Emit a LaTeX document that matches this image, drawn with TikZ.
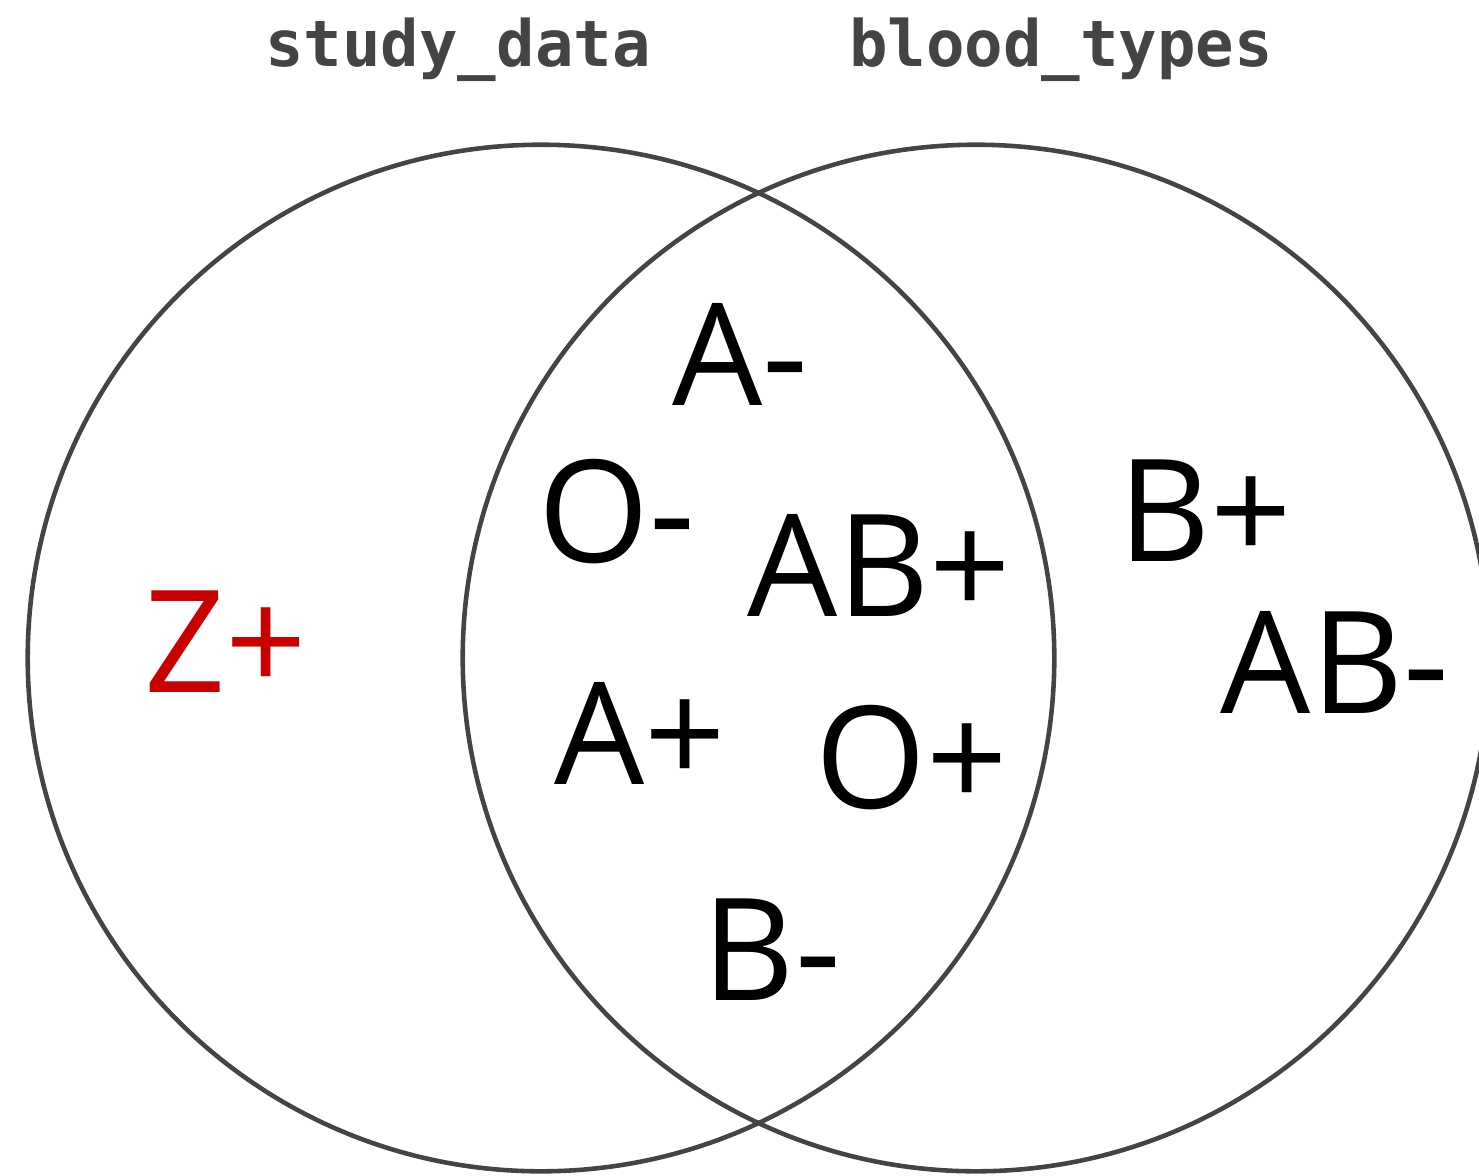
\documentclass[tikz,border=0pt]{standalone}
\usepackage{fontspec}
\setmainfont{Open Sans}
\newfontfamily\setfont{DejaVu Sans Mono}
\usetikzlibrary{positioning}
\definecolor{ringgray}{HTML}{444444}
\definecolor{labelgray}{HTML}{444444}
\definecolor{oddred}{HTML}{C80000}

\begin{document}
\begin{tikzpicture}[
    x=0.01cm, y=-0.01cm,
    setring/.style={circle, draw=ringgray, line width=1.3pt, minimum size=10.26cm, inner sep=0pt},
    setname/.style={anchor=base, text=labelgray, font=\setfont\bfseries\fontsize{18.2}{22}\selectfont},
    btype/.style={inner sep=0pt, font=\fontsize{40.5}{48}\selectfont},
    oddtype/.style={btype, text=oddred}
]
    \useasboundingbox (0,0) rectangle (1479,1175);

    % Sets
    \node[setring] (study) at (541,658) {};
    \node[setring] (blood) at (976,658) {};

    % Set names
    \node[setname] (studyname) at (458,66) {study\_data};
    \node[setname] (bloodname) at (1061,66) {blood\_types};

    % Only in study_data
    \node[oddtype] (zpos) at (226,642) {Z+};

    % In both
    \node[btype] (aneg) at (740,354) {A-};
    \node[btype] (oneg) at (617,512) {O-};
    \node[btype] (abpos) at (879,565) {AB+};
    \node[btype] (apos) at (640,733) {A+};
    \node[btype] (opos) at (912,758) {O+};
    \node[btype] (bneg) at (772,950) {B-};

    % Only in blood_types
    \node[btype] (bpos) at (1205,511) {B+};
    \node[btype] (abneg) at (1335,662) {AB-};
\end{tikzpicture}
\end{document}
